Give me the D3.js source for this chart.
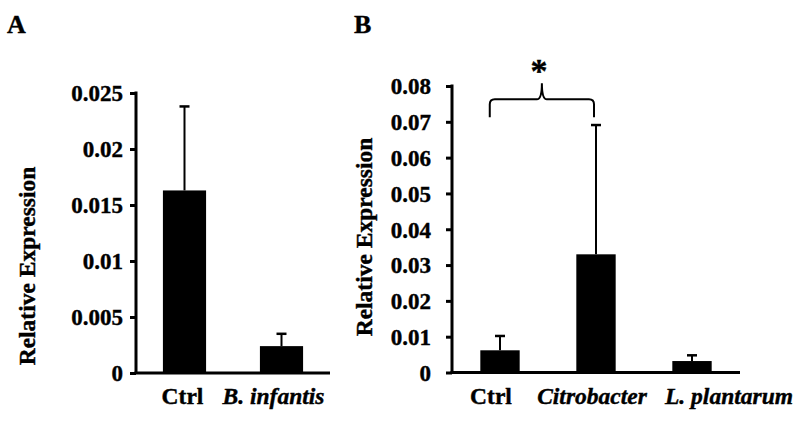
<!DOCTYPE html>
<html lang="en">
<head>
    <meta charset="UTF-8">
    <title>Relative Expression</title>
    <script src="https://d3js.org/d3.v7.min.js"></script>
    <style>
        body {
            margin: 0;
            background: #fff;
        }
        svg text {
            font-family: 'Liberation Serif', 'DejaVu Serif', serif !important;
            font-weight: bold;
            fill: #000;
            stroke: #000;
            stroke-width: 0.4px;
        }
        .axis path, .axis line {
            stroke: #000;
        }
    </style>
</head>
<body>
    <svg id="chart" width="800" height="422"></svg>

    <script>
        // panel A
        const catsA = ["Ctrl", "B. infantis"];
        const meanA = [0.0163, 0.0024];
        const errA  = [0.0075, 0.0011];
        const ticksA = [0, 0.005, 0.01, 0.015, 0.02, 0.025];

        // panel B
        const catsB = ["Ctrl", "Citrobacter", "L. plantarum"];
        const meanB = [0.0062, 0.0330, 0.0032];
        const errB  = [0.0040, 0.0361, 0.0016];
        const ticksB = [0, 0.01, 0.02, 0.03, 0.04, 0.05, 0.06, 0.07, 0.08];

        const italic = {"B. infantis": true, "Citrobacter": true, "L. plantarum": true};
        const serif = "'Liberation Serif', 'DejaVu Serif', serif";

        const svg = d3.select("#chart");

        function drawPanel(opt) {
            const x = d3.scaleBand().domain(opt.cats).range([opt.left, opt.right]).paddingInner(opt.pad).paddingOuter(opt.pad / 2);
            const y = d3.scaleLinear().domain([0, d3.max(opt.ticks)]).range([opt.bottom, opt.top]);
            const g = svg.append("g");

            // y axis
            const yAxis = d3.axisLeft(y).tickValues(opt.ticks).tickSize(6).tickSizeOuter(0)
                .tickPadding(opt.tickPad).tickFormat(d => d === 0 ? "0" : String(d));
            g.append("g").attr("class", "axis")
                .attr("transform", `translate(${opt.left},0)`)
                .call(yAxis)
                .attr("font-family", serif)
                .attr("font-size", 23)
                .call(a => a.selectAll("line").attr("stroke-width", 3))
                .call(a => a.selectAll("text").attr("dy", "0.34em"))
                .call(a => a.select(".domain").attr("stroke-width", 3).attr("d", `M0,${opt.top - 1.5}V${opt.bottom}`));

            // x axis baseline
            g.append("line")
                .attr("x1", opt.left - 1.5).attr("x2", opt.right)
                .attr("y1", y(0)).attr("y2", y(0))
                .attr("stroke", "#000").attr("stroke-width", 3);

            const rows = opt.cats.map((c, i) => ({cat: c, v: opt.mean[i], e: opt.err[i], dx: opt.labelDx[i]}));

            // error bars (upper only)
            const eb = g.selectAll(".err").data(rows).enter().append("g");
            eb.append("line")
                .attr("x1", d => x(d.cat) + x.bandwidth() / 2).attr("x2", d => x(d.cat) + x.bandwidth() / 2)
                .attr("y1", d => y(d.v)).attr("y2", d => y(d.v + d.e))
                .attr("stroke", "#000").attr("stroke-width", 2);
            eb.append("line")
                .attr("x1", d => x(d.cat) + x.bandwidth() / 2 - 5).attr("x2", d => x(d.cat) + x.bandwidth() / 2 + 5)
                .attr("y1", d => y(d.v + d.e)).attr("y2", d => y(d.v + d.e))
                .attr("stroke", "#000").attr("stroke-width", 2.5);

            // bars
            g.selectAll(".bar").data(rows).enter().append("rect")
                .attr("x", d => x(d.cat))
                .attr("y", d => y(d.v))
                .attr("width", x.bandwidth())
                .attr("height", d => y(0) - y(d.v))
                .attr("fill", "#000");

            // category labels
            g.selectAll(".cat").data(rows).enter().append("text")
                .attr("x", d => x(d.cat) + x.bandwidth() / 2 + d.dx)
                .attr("y", opt.labelY)
                .attr("text-anchor", "middle")
                .style("font-size", "23.5px")
                .style("font-style", d => italic[d.cat] ? "italic" : "normal")
                .text(d => d.cat);

            // y label
            g.append("text")
                .attr("transform", `translate(${opt.ylabX},${opt.ylabY}) rotate(-90)`)
                .attr("text-anchor", "middle")
                .style("font-size", "23.5px")
                .text("Relative Expression");

            // panel letter
            g.append("text")
                .attr("x", opt.letterX).attr("y", 33)
                .style("font-size", "26px")
                .text(opt.letter);

            return {x, y, g};
        }

        drawPanel({
            cats: catsA, mean: meanA, err: errA, ticks: ticksA,
            left: 136, right: 330, top: 93, bottom: 373, pad: 0.555,
            tickPad: 7, labelY: 404, labelDx: [-2, -8],
            ylabX: 35, ylabY: 266, letter: "A", letterX: 7
        });

        const pB = drawPanel({
            cats: catsB, mean: meanB, err: errB, ticks: ticksB,
            left: 452, right: 740, top: 86, bottom: 372.5, pad: 0.59,
            tickPad: 15, labelY: 404, labelDx: [-9, -4, 37],
            ylabX: 372, ylabY: 237, letter: "B", letterX: 354
        });

        // significance brace between Ctrl and Citrobacter
        const bx = pB.x, by = pB.y;
        const x0 = bx("Ctrl") + bx.bandwidth() * 0.24;
        const x1 = bx("Citrobacter") + bx.bandwidth() / 2 - 2;
        const xm = (x0 + x1) / 2;
        const yEnd = by(0.0713), yBar = by(0.0763), yTip = by(0.0808);
        const r = 5;
        const brace = `M${x0},${yEnd} V${yBar + r} Q${x0},${yBar} ${x0 + r},${yBar} H${xm - r} Q${xm},${yBar} ${xm},${yTip}`
            + ` Q${xm},${yBar} ${xm + r},${yBar} H${x1 - r} Q${x1},${yBar} ${x1},${yBar + r} V${yEnd}`;
        pB.g.append("path")
            .attr("d", brace)
            .attr("fill", "none")
            .attr("stroke", "#000")
            .attr("stroke-width", 2);
        pB.g.append("text")
            .attr("x", xm - 3).attr("y", by(0.0808) - 1)
            .attr("text-anchor", "middle")
            .style("font-size", "34px")
            .text("*");
    </script>
</body>
</html>
